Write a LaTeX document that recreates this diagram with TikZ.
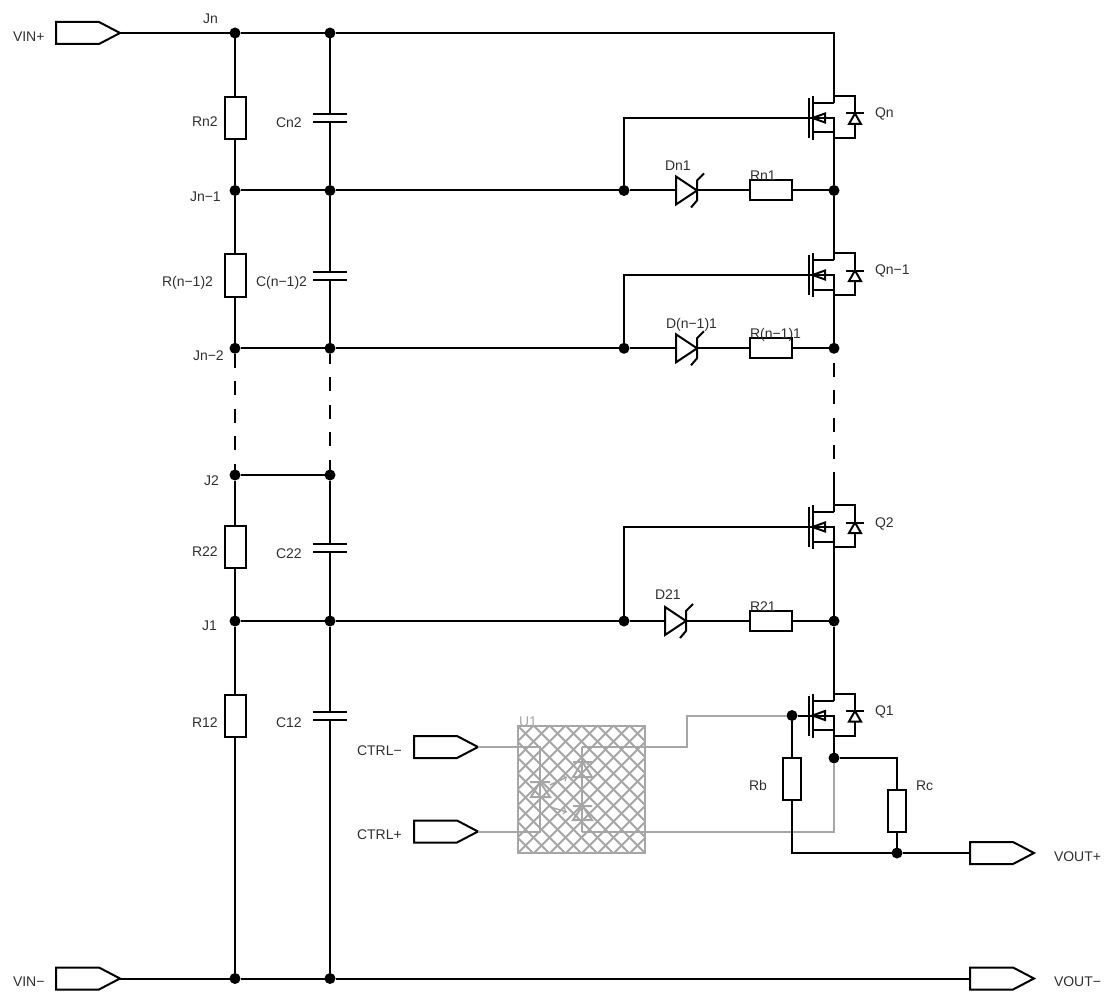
\documentclass[tikz,border=0pt]{standalone}
\usepackage{fontspec}
\setmainfont{Liberation Sans}
\definecolor{txt}{HTML}{303030}
\definecolor{gw}{HTML}{A6A6A6}
\tikzset{
  x=1pt,y=-1pt,
  wire/.style={line width=2pt,line join=miter,black},
  gwire/.style={line width=2pt,gw},
  dot/.style={circle,fill=black,draw=none,minimum size=11pt,inner sep=0pt,outer sep=0pt},
  resv/.style={rectangle,draw=black,line width=2pt,fill=white,minimum width=21pt,minimum height=42pt,inner sep=0pt,outer sep=0pt},
  resh/.style={rectangle,draw=black,line width=2pt,fill=white,minimum width=42pt,minimum height=20pt,inner sep=0pt,outer sep=0pt},
  lab/.style={inner sep=0pt,outer sep=0pt,anchor=base west,text=txt,font=\fontsize{14}{16}\selectfont},
  glab/.style={lab,text=gw},
  dashA/.style={line width=2pt,dash pattern=on 14pt off 13.5pt},
  pics/port/.style={code={
    \draw[wire] (0,-11)--(43,-11)--(64,0)--(43,11)--(0,11)--cycle;
    \coordinate (-in) at (0,0); \coordinate (-out) at (64,0);}},
  pics/cap/.style={code={
    \draw[wire] (-17,-4)--(17,-4) (-17,4)--(17,4);
    \coordinate (-t) at (0,-4); \coordinate (-b) at (0,4);}},
  pics/zener/.style={code={
    \draw[wire] (0,-14)--(21,0)--(0,14)--cycle;
    \draw[wire] (28,-17)--(21,-10)--(21,10)--(15,17);
    \coordinate (-a) at (0,0); \coordinate (-k) at (21,0);}},
  pics/fet/.style={code={
    \draw[wire] (-25,-20)--(-25,20) (-21.5,-22)--(-21.5,22);
    \draw[wire] (-21.5,-15)--(0,-15) (-21.5,14.5)--(0,14.5);
    \draw[wire] (-25,0)--(0,0)--(0,20);
    \draw[wire] (0,-22)--(0,-15);
    \draw[wire] (-21.5,0)--(-9,-4.5)--(-9,4.5)--cycle;
    \draw[wire] (0,-22)--(21,-22)--(21,-4.5);
    \draw[wire] (21,6)--(21,20)--(0,20);
    \draw[wire] (12,-4.5)--(30,-4.5);
    \draw[wire] (21,-4.5)--(15,6)--(27,6)--cycle;
    \coordinate (-g) at (-25,0); \coordinate (-d) at (0,-22); \coordinate (-s) at (0,20);}},
}
\begin{document}
\begin{tikzpicture}
\useasboundingbox (0,0) rectangle (1114,1003);
% junctions
\node[dot] (Jn) at (235,33) {};
\node[dot] (Cn) at (330,33) {};
\coordinate (TR) at (834,33);
\node[dot] (Jn1) at (235,190.5) {};
\node[dot] (Cn1) at (330,190.5) {};
\node[dot] (Gn) at (624,190.5) {};
\node[dot] (Dn) at (834,190.5) {};
\node[dot] (Jn2) at (235,348.3) {};
\node[dot] (Cn2x) at (330,348.3) {};
\node[dot] (Gn1) at (624,348.3) {};
\node[dot] (Dn1x) at (834,348.3) {};
\node[dot] (J2) at (235,475) {};
\node[dot] (C2x) at (330,475) {};
\node[dot] (J1) at (235,621) {};
\node[dot] (C1x) at (330,621) {};
\node[dot] (G2) at (624,621) {};
\node[dot] (D2x) at (834,621) {};
\node[dot] (Jb) at (235,978.5) {};
\node[dot] (Cb) at (330,978.5) {};
\node[dot] (G1) at (792,715.5) {};
\node[dot] (S1) at (834,758) {};
\node[dot] (Ob) at (897,853) {};
\coordinate (q2top) at (834,472);
\coordinate (RcT) at (897,758);
\coordinate (RbB) at (792,853);
% ports
\pic (VINP) at (56,33) {port};
\pic (VINM) at (56,978.5) {port};
\pic (CTM) at (414,747) {port};
\pic (CTP) at (414,831.5) {port};
\pic (VOP) at (970,853) {port};
\pic (VOM) at (970,978.5) {port};
% FETs
\pic (Qn) at (834,118) {fet};
\pic (Qn1) at (834,275) {fet};
\pic (Q2) at (834,527) {fet};
\pic (Q1) at (834,715.5) {fet};
% vertical resistors
\node[resv] (Rn2) at (235,118) {};
\node[resv] (Rn12) at (235,275.5) {};
\node[resv] (R22) at (235,547) {};
\node[resv] (R12) at (235,715.5) {};
\node[resv,minimum width=18pt] (Rb) at (792,779) {};
\node[resv,minimum width=18pt] (Rc) at (897,810.5) {};
% horizontal resistors
\node[resh] (Rn1) at (770.5,190.5) {};
\node[resh] (Rn11) at (770.5,348.3) {};
\node[resh] (R21) at (770.5,621) {};
% caps
\pic (Cap1) at (330,118.5) {cap};
\pic (Cap2) at (330,275.5) {cap};
\pic (Cap3) at (330,547.5) {cap};
\pic (Cap4) at (330,715.5) {cap};
% zeners
\pic (Zn) at (676,190.5) {zener};
\pic (Zn1) at (676,348.3) {zener};
\pic (Z2) at (665,621) {zener};
% left rail
\draw[wire] (Jn)--(Rn2) (Rn2)--(Jn1)--(Rn12) (Rn12)--(Jn2);
\draw[wire] (J2)--(R22) (R22)--(J1)--(R12) (R12)--(Jb);
\draw[dashA] (Jn2)--(J2);
% cap rail
\draw[wire] (Cn)--(Cap1-t) (Cap1-b)--(Cn1)--(Cap2-t) (Cap2-b)--(Cn2x);
\draw[wire] (C2x)--(Cap3-t) (Cap3-b)--(C1x)--(Cap4-t) (Cap4-b)--(Cb);
\draw[dashA,dash phase=4pt] (Cn2x)--(C2x);
% horizontals
\draw[wire] (VINP-out)--(Jn)--(Cn)--(TR)--(Qn-d);
\draw[wire] (J2)--(C2x);
\draw[wire] (Jn1)--(Cn1)--(Gn)--(Zn-a) (Zn-k)--(Rn1) (Rn1)--(Dn);
\draw[wire] (Jn2)--(Cn2x)--(Gn1)--(Zn1-a) (Zn1-k)--(Rn11) (Rn11)--(Dn1x);
\draw[wire] (J1)--(C1x)--(G2)--(Z2-a) (Z2-k)--(R21) (R21)--(D2x);
\draw[wire] (VINM-out)--(Jb)--(Cb)--(VOM-in);
% gates
\draw[wire] (Gn)|-(Qn-g);
\draw[wire] (Gn1)|-(Qn1-g);
\draw[wire] (G2)|-(Q2-g);
% right rail
\draw[wire] (Qn-s)--(Dn)--(Qn1-d);
\draw[wire] (Qn1-s)--(Dn1x);
\draw[dashA,dash phase=18.5pt] (Dn1x)--(q2top);
\draw[wire] (q2top)--(Q2-d);
\draw[wire] (Q2-s)--(D2x)--(Q1-d);
\draw[wire] (Q1-s)--(S1);
% U1 block
\node[rectangle,draw=gw,line width=2pt,minimum width=127pt,minimum height=127pt,inner sep=0pt,outer sep=0pt] (U1) at (581.5,789.5) {};
\begin{scope}
\clip (U1.north west) rectangle (U1.south east);
\foreach \k in {-9,...,9}{
  \draw[gw,line width=2pt] (581.5+\k*16-70,789.5-70)--(581.5+\k*16+70,789.5+70);
  \draw[gw,line width=2pt] (581.5+\k*16+70,789.5-70)--(581.5+\k*16-70,789.5+70);
}
\end{scope}
\coordinate (Ua) at (540,747);
\coordinate (Ub) at (540,831.5);
\coordinate (Uc) at (582,747);
\coordinate (Ud) at (582,831.5);
\draw[gwire] (CTM-out)--(Ua)--(Ub)--(CTP-out);
\draw[gwire] (Uc)--(Ud);
\draw[gwire] (Uc)-|(687,715.5)--(G1);
\draw[gwire] (Ud)-|(S1);
\draw[gwire] (530,782)--(550,782) (540,782)--(531,797)--(550,797)--cycle;
\draw[gwire] (573,762)--(592,762) (582.5,762)--(573,777)--(592,777)--cycle;
\draw[gwire] (573,806)--(592,806) (582.5,806)--(573,820)--(592,820)--cycle;
\draw[gwire,line width=1.5pt,->] (550,785)--(567,777);
\draw[gwire,line width=1.5pt,->] (550,807)--(567,812);
% Q1 gate, outputs
\draw[wire] (G1)--(Q1-g);
\draw[wire] (G1)--(Rb) (Rb)--(RbB)--(Ob)--(VOP-in);
\draw[wire] (S1)--(RcT)--(Rc) (Rc)--(Ob);
% labels
\node[lab] (l1) at (13,42) {VIN+};
\node[lab] (l2) at (13,986) {VIN−};
\node[lab] (l3) at (203,24) {Jn};
\node[lab] (l4) at (192,127) {Rn2};
\node[lab] (l5) at (276,128) {Cn2};
\node[lab] (l6) at (875,118) {Qn};
\node[lab] (l7) at (190,202) {Jn−1};
\node[lab] (l8) at (162,286) {R(n−1)2};
\node[lab] (l9) at (256,286) {C(n−1)2};
\node[lab] (l10) at (193,360) {Jn−2};
\node[lab] (l11) at (204,485) {J2};
\node[lab] (l12) at (192,556) {R22};
\node[lab] (l13) at (276,558) {C22};
\node[lab] (l14) at (202,630) {J1};
\node[lab] (l15) at (192,727) {R12};
\node[lab] (l16) at (276,727) {C12};
\node[lab] (l17) at (665,171) {Dn1};
\node[lab] (l18) at (750,181) {Rn1};
\node[lab] (l19) at (875,275) {Qn−1};
\node[lab] (l20) at (666,328) {D(n−1)1};
\node[lab] (l21) at (750,338) {R(n−1)1};
\node[lab] (l22) at (875,527) {Q2};
\node[lab] (l23) at (655,599) {D21};
\node[lab] (l24) at (750,611) {R21};
\node[lab] (l25) at (875,715) {Q1};
\node[lab] (l26) at (357,755) {CTRL−};
\node[lab] (l27) at (357,839) {CTRL+};
\node[lab] (l28) at (749,790) {Rb};
\node[lab] (l29) at (916,790) {Rc};
\node[lab] (l30) at (1054,861) {VOUT+};
\node[lab] (l31) at (1054,986) {VOUT−};
\node[glab] (l32) at (519,726) {U1};
\end{tikzpicture}
\end{document}
